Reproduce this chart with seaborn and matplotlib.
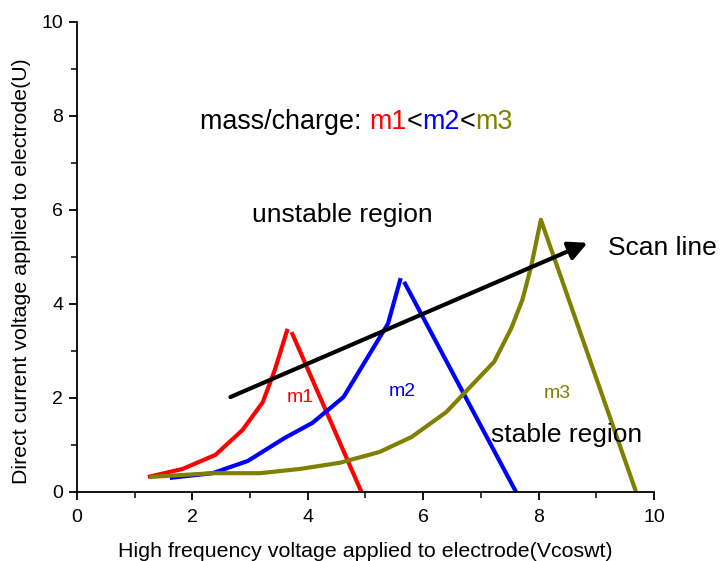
import matplotlib
matplotlib.use("Agg")
import matplotlib.pyplot as plt
from matplotlib.offsetbox import TextArea, HPacker, AnnotationBbox
from matplotlib.ticker import MultipleLocator
import pandas as pd
import seaborn as sns

# values (x: high frequency voltage, y: DC voltage)
red_rise_x = [1.23, 1.83, 2.40, 2.87, 3.22, 3.43, 3.65]
red_rise_y = [0.32, 0.49, 0.79, 1.32, 1.91, 2.60, 3.47]
red_fall_x = [3.72, 4.93]
red_fall_y = [3.40, 0.0]

blue_rise_x = [1.61, 2.35, 2.96, 3.60, 4.08, 4.62, 5.39, 5.61]
blue_rise_y = [0.30, 0.40, 0.66, 1.15, 1.47, 2.02, 3.58, 4.55]
blue_fall_x = [5.67, 7.61]
blue_fall_y = [4.47, 0.0]

olive_x = [1.26, 2.35, 3.17, 3.86, 4.55, 5.24, 5.80, 6.40, 7.23, 7.53, 7.72, 7.87, 8.04, 9.69]
olive_y = [0.32, 0.40, 0.40, 0.49, 0.62, 0.85, 1.17, 1.70, 2.77, 3.49, 4.09, 4.79, 5.79, 0.0]

scan_start = (2.66, 2.02)
scan_end = (8.85, 5.30)

RED, BLUE, OLIVE = "#ff0000", "#0000ff", "#808000"

sns.set_style("ticks")
plt.rcParams["font.family"] = ["Liberation Sans", "DejaVu Sans"]
plt.rcParams["text.color"] = "black"
plt.rcParams["axes.labelcolor"] = "black"

fig = plt.figure(figsize=(7.23, 5.61), dpi=100)
ax = fig.add_axes([0.1065, 0.123, 0.798, 0.838])

segments = [
    (red_rise_x, red_rise_y, RED),
    (red_fall_x, red_fall_y, RED),
    (blue_rise_x, blue_rise_y, BLUE),
    (blue_fall_x, blue_fall_y, BLUE),
    (olive_x, olive_y, OLIVE),
]
for xs, ys, col in segments:
    df = pd.DataFrame({"x": xs, "y": ys})
    sns.lineplot(data=df, x="x", y="y", sort=False, color=col, lw=3,
                 ax=ax, solid_capstyle="butt", clip_on=False)

ax.annotate("", xy=scan_end, xytext=scan_start,
            arrowprops=dict(arrowstyle="-|>", lw=3, color="black",
                            mutation_scale=28, shrinkA=0, shrinkB=0))

ax.set_xlim(0, 10)
ax.set_ylim(0, 10)
ax.xaxis.set_major_locator(MultipleLocator(2))
ax.xaxis.set_minor_locator(MultipleLocator(1))
ax.yaxis.set_major_locator(MultipleLocator(2))
ax.yaxis.set_minor_locator(MultipleLocator(1))
ax.tick_params(which="major", direction="out", length=6, width=1.3, labelsize=14,
               colors="black", pad=4)
ax.tick_params(axis="x", which="major", pad=6)
ax.tick_params(which="minor", direction="out", length=4, width=1.3)
for side in ["left", "bottom"]:
    ax.spines[side].set_linewidth(1.3)
    ax.spines[side].set_color("black")
sns.despine(ax=ax)

ax.set_xlabel("High frequency voltage applied to electrode(Vcoswt)", fontsize=15.4, labelpad=12)
ax.set_ylabel("Direct current voltage applied to electrode(U)", fontsize=15.4)
ax.yaxis.set_label_coords(-0.08, 0.47)

ax.text(4.59, 5.89, "unstable region", fontsize=19, ha="center", va="center")
ax.text(9.2, 5.19, "Scan line", fontsize=19, ha="left", va="center")
ax.text(7.18, 1.21, "stable region", fontsize=19, ha="left", va="center")
ax.text(3.87, 2.0, "m1", fontsize=14, color=RED, ha="center", va="center")
ax.text(5.63, 2.13, "m2", fontsize=14, color=BLUE, ha="center", va="center")
ax.text(8.33, 2.1, "m3", fontsize=14, color=OLIVE, ha="center", va="center")

parts = [("mass/charge: ", "black"), ("m1", RED), ("<", "black"),
         ("m2", BLUE), ("<", "black"), ("m3", OLIVE)]
pack = HPacker(children=[TextArea(t, textprops=dict(color=c, fontsize=19.4)) for t, c in parts],
               pad=0, sep=0, align="baseline")
ax.add_artist(AnnotationBbox(pack, (2.13, 7.87), box_alignment=(0, 0.5),
                             frameon=False, pad=0))

fig.savefig("out.png", dpi=100)
